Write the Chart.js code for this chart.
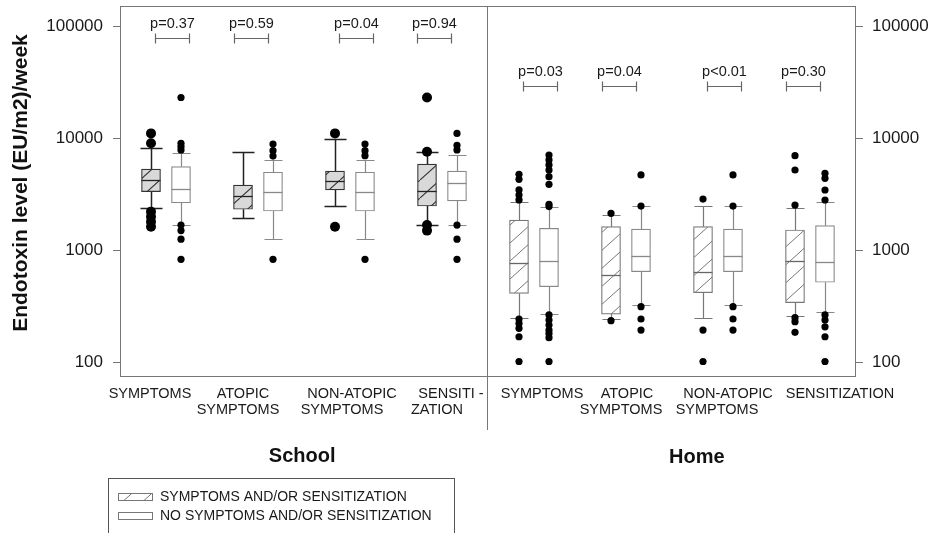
<!DOCTYPE html>
<html><head><meta charset="utf-8">
<script src="https://cdn.jsdelivr.net/npm/chart.js@4.4.1/dist/chart.umd.min.js"></script>
<style>html,body{margin:0;padding:0;background:#fff;}</style>
</head><body>
<canvas id="c" width="933" height="533"></canvas>
<script>
// ---------- DATA ----------
const categories = ['SYMPTOMS', ['ATOPIC','SYMPTOMS'], ['NON-ATOPIC','SYMPTOMS'], ['SENSITI -','ZATION'],
                    'SYMPTOMS', ['ATOPIC','SYMPTOMS'], ['NON-ATOPIC','SYMPTOMS'], 'SENSITIZATION'];
const settings = ['School', 'Home'];
const seriesNames = ['SYMPTOMS AND/OR SENSITIZATION', 'NO SYMPTOMS AND/OR SENSITIZATION'];
const pValues = ['p=0.37','p=0.59','p=0.04','p=0.94','p=0.03','p=0.04','p<0.01','p=0.30'];
const yTicks = [100, 1000, 10000, 100000];

// symptoms and/or sensitization (hatched)
const hatchedLow    = [2350, 1920, 2490, 1670, 245, 242, 245, 257];
const hatchedQ1     = [3320, 2310, 3440, 2470, 410, 268, 416, 339];
const hatchedMedian = [4220, 3040, 4130, 3370, 760, 598, 632, 798];
const hatchedQ3     = [5280, 3800, 5070, 5860, 1850, 1615, 1615, 1510];
const hatchedHigh   = [8090, 7450, 9730, 7450, 2670, 2050, 2490, 2390];
const hatchedOutliers = [
  [11000, 8980, 2200, 1980, 1790, 1615],
  [],
  [11000, 1615],
  [23000, 7550, 1670, 1490],
  [4740, 4280, 3440, 3100, 2800, 242, 221, 200, 168, 101],
  [2125, 234],
  [2850, 193, 101],
  [6950, 5180, 2520, 249, 229, 184]
];
// no symptoms and/or sensitization (plain)
const plainLow    = [1670, 1250, 1250, 1670, 267, 323, 323, 278];
const plainQ1     = [2640, 2230, 2230, 2740, 470, 640, 640, 515];
const plainMedian = [3490, 3320, 3320, 3940, 798, 889, 889, 776];
const plainQ3     = [5550, 4950, 4950, 5070, 1563, 1540, 1540, 1650];
const plainHigh   = [7300, 6300, 6400, 7050, 2440, 2470, 2470, 2700];
const plainOutliers = [
  [23000, 8980, 8380, 7820, 1670, 1490, 1250, 826],
  [8830, 7710, 6900, 826],
  [8830, 7710, 6960, 826],
  [11000, 8600, 7820, 1670, 1250, 826],
  [7050, 6370, 5745, 5180, 4515, 3860, 2560, 2440, 263, 237, 214, 193, 180, 165, 101],
  [4680, 2470, 312, 242, 193],
  [4680, 2470, 312, 242, 193],
  [4840, 4365, 3435, 2795, 263, 237, 206, 168, 101]
];

// ---------- LAYOUT / STYLE ----------
const FONT = "'Liberation Sans', Arial, Helvetica, sans-serif";
const BOX_OFF = 0.163;             // box offset from category centre (in category units)
const labelOffsets = [[-16],[-15,-20],[2,-8],[9,-5],[8],[1,-5],[10,-1],[30]];
const pOffsets = [6,-7,6,-8,6,-7,6,-7];
const pBracketVal = [78000, 29000];   // bracket height per setting

const cv = document.getElementById('c');
const mctx = cv.getContext('2d');
function makePattern(bg, fg, lw) {
  const c = document.createElement('canvas'); c.width = 20; c.height = 18;
  const g = c.getContext('2d');
  g.fillStyle = bg; g.fillRect(0, 0, 20, 18);
  g.strokeStyle = fg; g.lineWidth = lw;
  g.beginPath(); g.moveTo(-5, 22.5); g.lineTo(25, -4.5); g.stroke();
  return mctx.createPattern(c, 'repeat');
}
const patSchool = makePattern('#d9d9d9', '#333', 1.1);
const patHome = makePattern('#ffffff', '#777', 1);
const patLegend = makePattern('#ffffff', '#777', 1);

const isSchool = i => i < 4;

const outH = [], outP = [];
hatchedOutliers.forEach((arr, i) => arr.forEach(v => outH.push({x: i - BOX_OFF, y: v})));
plainOutliers.forEach((arr, i) => arr.forEach(v => outP.push({x: i + BOX_OFF, y: v})));

const stats = [
  {low: hatchedLow, q1: hatchedQ1, med: hatchedMedian, q3: hatchedQ3, high: hatchedHigh},
  {low: plainLow, q1: plainQ1, med: plainMedian, q3: plainQ3, high: plainHigh}
];

function styleFor(s, i) {
  if (s === 0 && isSchool(i)) return {c: '#222', w: 1.5, cap: 11};
  if (s === 0) return {c: '#777', w: 1.2, cap: 9};
  return {c: '#888', w: 1.2, cap: 9};
}

const boxPlugin = {
  id: 'boxParts',
  beforeDatasetsDraw(chart) {
    const ctx = chart.ctx, y = chart.scales.y;
    [2, 3].forEach((di, s) => {
      const meta = chart.getDatasetMeta(di);
      meta.data.forEach((el, i) => {
        const st = stats[s], sty = styleFor(s, i);
        const x = Math.round(el.x) + 0.5;
        const yq3 = y.getPixelForValue(st.q3[i]), yq1 = y.getPixelForValue(st.q1[i]);
        const yh = Math.round(y.getPixelForValue(st.high[i])) + 0.5;
        const yl = Math.round(y.getPixelForValue(st.low[i])) + 0.5;
        ctx.save();
        ctx.strokeStyle = sty.c; ctx.lineWidth = sty.w;
        ctx.beginPath();
        ctx.moveTo(x, yq3); ctx.lineTo(x, yh);
        ctx.moveTo(x, yq1); ctx.lineTo(x, yl);
        ctx.moveTo(x - sty.cap, yh); ctx.lineTo(x + sty.cap, yh);
        ctx.moveTo(x - sty.cap, yl); ctx.lineTo(x + sty.cap, yl);
        ctx.stroke();
        ctx.restore();
      });
    });
  },
  afterDatasetDraw(chart, args) {
    if (args.index !== 2 && args.index !== 3) return;
    const s = args.index - 2;
    const ctx = chart.ctx, y = chart.scales.y;
    args.meta.data.forEach((el, i) => {
      const ym = Math.round(y.getPixelForValue(stats[s].med[i])) + 0.5;
      ctx.save();
      ctx.strokeStyle = s === 0 && isSchool(i) ? '#222' : (s === 0 ? '#666' : '#888');
      ctx.lineWidth = 1.3;
      ctx.beginPath(); ctx.moveTo(el.x - el.width / 2, ym); ctx.lineTo(el.x + el.width / 2, ym); ctx.stroke();
      ctx.restore();
    });
  },
  afterDraw(chart) {
    const ctx = chart.ctx, a = chart.chartArea, xl = chart.scales.xl, y = chart.scales.y;
    ctx.save();
    // frame
    ctx.strokeStyle = '#777'; ctx.lineWidth = 1;
    ctx.strokeRect(a.left + 0.5, a.top + 0.5, a.right - a.left - 1, a.bottom - a.top);
    // divider
    const dx = Math.round(xl.getPixelForValue(3.5)) - 0.5;
    ctx.beginPath(); ctx.moveTo(dx, a.top); ctx.lineTo(dx, a.bottom + 54); ctx.stroke();
    // category labels
    ctx.fillStyle = '#1a1a1a';
    ctx.font = '14.5px ' + FONT; ctx.textAlign = 'center'; ctx.textBaseline = 'middle';
    categories.forEach((lab, i) => {
      const lines = Array.isArray(lab) ? lab : [lab];
      const cx = xl.getPixelForValue(i);
      lines.forEach((t, k) => ctx.fillText(t, cx + labelOffsets[i][k], a.bottom + 18 + k * 16));
    });
    // p-values with brackets
    pValues.forEach((p, i) => {
      const cx = Math.round(xl.getPixelForValue(i) + pOffsets[i]) + 0.5;
      const by = Math.round(y.getPixelForValue(pBracketVal[isSchool(i) ? 0 : 1])) + 0.5;
      ctx.fillStyle = '#1a1a1a';
      ctx.fillText(p, cx, by - 15);
      ctx.strokeStyle = '#666'; ctx.lineWidth = 1.2;
      ctx.beginPath();
      ctx.moveTo(cx - 17, by); ctx.lineTo(cx + 17, by);
      ctx.moveTo(cx - 17, by - 5); ctx.lineTo(cx - 17, by + 5);
      ctx.moveTo(cx + 17, by - 5); ctx.lineTo(cx + 17, by + 5);
      ctx.stroke();
    });
    // setting titles
    ctx.font = 'bold 20px ' + FONT; ctx.fillStyle = '#111';
    ctx.fillText(settings[0], xl.getPixelForValue(1.48), a.bottom + 80);
    ctx.fillText(settings[1], xl.getPixelForValue(5.77), a.bottom + 81);
    // y title
    ctx.save();
    ctx.translate(21, 183); ctx.rotate(-Math.PI / 2);
    ctx.font = 'bold 21px ' + FONT;
    ctx.fillText('Endotoxin level (EU/m2)/week', 0, 0);
    ctx.restore();
    // legend
    ctx.strokeStyle = '#555'; ctx.lineWidth = 1;
    ctx.strokeRect(108.5, 478.5, 346, 70);
    ctx.fillStyle = patLegend; ctx.fillRect(118, 493, 34, 8);
    ctx.strokeStyle = '#777'; ctx.strokeRect(118.5, 493.5, 34, 7);
    ctx.fillStyle = '#fff'; ctx.fillRect(118, 512, 34, 8);
    ctx.strokeRect(118.5, 512.5, 34, 7);
    ctx.fillStyle = '#1a1a1a'; ctx.font = '14px ' + FONT; ctx.textAlign = 'left';
    ctx.fillText(chart.data.datasets[2].label, 160, 497.5);
    ctx.fillText(chart.data.datasets[3].label, 160, 516);
    ctx.restore();
  }
};

const yCommon = {
  type: 'logarithmic', min: 75, max: 150900,
  afterBuildTicks: s => { s.ticks = yTicks.map(v => ({value: v})); },
  ticks: {callback: v => String(v), font: {family: FONT, size: 17}, color: '#1a1a1a'},
  grid: {drawOnChartArea: false, drawTicks: true, tickLength: 7, color: '#777'},
  border: {display: false}
};
function fitY(w) {
  return s => { s.width = w; s.paddingTop = 0; s.paddingBottom = 0; };
}

new Chart(cv, {
  type: 'bar',
  data: {
    datasets: [
      {type: 'scatter', label: 'outliers1', xAxisID: 'xl', yAxisID: 'y', data: outH,
       pointRadius: c => (c.raw && isSchool(Math.round(c.raw.x + BOX_OFF))) ? 5 : 3.6,
       pointBackgroundColor: '#000', pointBorderWidth: 0, pointHoverRadius: 0},
      {type: 'scatter', label: 'outliers2', xAxisID: 'xl', yAxisID: 'y', data: outP,
       pointRadius: 3.6, pointBackgroundColor: '#000', pointBorderWidth: 0},
      {type: 'bar', label: seriesNames[0], xAxisID: 'xl', yAxisID: 'y',
       data: hatchedQ1.map((q, i) => ({x: i - BOX_OFF, y: [q, hatchedQ3[i]]})),
       backgroundColor: categories.map((_, i) => isSchool(i) ? patSchool : patHome),
       borderColor: categories.map((_, i) => isSchool(i) ? '#333' : '#777'),
       borderWidth: 1.2, borderSkipped: false, grouped: false, barThickness: 19},
      {type: 'bar', label: seriesNames[1], xAxisID: 'xl', yAxisID: 'y',
       data: plainQ1.map((q, i) => ({x: i + BOX_OFF, y: [q, plainQ3[i]]})),
       backgroundColor: '#ffffff', borderColor: '#888',
       borderWidth: 1.2, borderSkipped: false, grouped: false, barThickness: 19}
    ]
  },
  options: {
    responsive: false, animation: false, devicePixelRatio: 1,
    layout: {padding: {top: 6, bottom: 157, left: 0, right: 0}},
    plugins: {legend: {display: false}, tooltip: {enabled: false}},
    scales: {
      xl: {type: 'linear', display: false, min: -0.5, max: 7.5, offset: false},
      y: Object.assign({}, yCommon, {position: 'left', afterFit: fitY(120),
        ticks: Object.assign({}, yCommon.ticks, {padding: 10})}),
      y2: Object.assign({}, yCommon, {position: 'right', afterFit: fitY(77),
        ticks: Object.assign({}, yCommon.ticks, {padding: 9})})
    }
  },
  plugins: [boxPlugin]
});
</script>
</body></html>
